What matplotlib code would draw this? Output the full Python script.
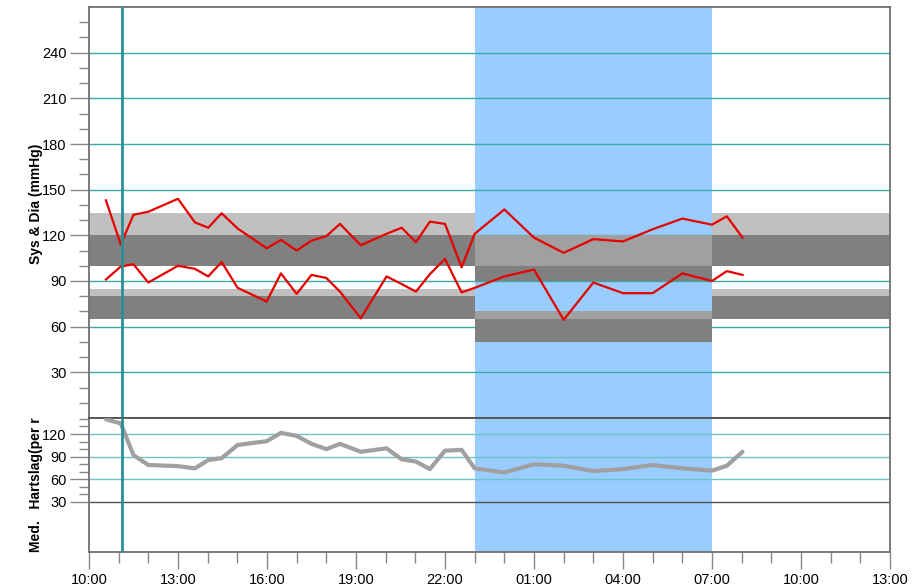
import matplotlib.pyplot as plt

plt.rcParams['font.family'] = ['Liberation Sans', 'DejaVu Sans']

# hours since 10:00
times = [0.57, 1.07, 1.5, 2.0, 3.0, 3.57, 4.02, 4.47, 5.01, 5.99, 6.47, 7.0, 7.5,
         8.0, 8.46, 9.16, 10.03, 10.54, 11.02, 11.49, 12.0, 12.56, 13.0, 14.0,
         15.0, 16.0, 17.0, 18.0, 19.0, 20.0, 21.0, 21.5, 22.03]
sys_bp = [143, 114, 133.5, 135.5, 144, 128.5, 125, 134.5, 124.5, 111.5, 117, 110, 116.5,
          119.5, 127.5, 113.5, 121, 125, 115.5, 129, 127.5, 99, 121, 137,
          118.5, 108.5, 117.5, 116, 124, 131, 127, 132.5, 118.5]
dia_bp = [91, 99.5, 101, 89, 100, 98, 93, 102.5, 85.5, 76.5, 95, 81.5, 94,
          92, 83, 65.5, 93, 88, 83, 94.5, 104.5, 82.5, 85.5, 93,
          97.5, 64.5, 89, 82, 82, 95, 90, 96.5, 94]
heart_rate = [139.5, 134, 92, 79, 77.5, 74.5, 85.5, 88, 105.5, 110.5, 121.5, 117.5, 107,
              100, 107, 96.5, 101, 86.5, 83.5, 73.5, 98, 99, 74.5, 69,
              80, 78, 71, 73.5, 79, 74.5, 71.5, 78, 96.5]

# night period and marker
night_start, night_end = 13.0, 21.0
marker_time = 1.11

# target bands (low, high) for day / night
day_bands = [(120, 135, '#c0c0c0'), (100, 120, '#808080'),
             (80, 85, '#c0c0c0'), (65, 80, '#808080')]
night_bands = [(100, 120, '#a0a0a0'), (90, 100, '#808080'),
               (65, 70, '#a0a0a0'), (50, 65, '#808080')]

xtick_pos = list(range(0, 28, 3))
xtick_labels = ['10:00', '13:00', '16:00', '19:00', '22:00', '01:00',
                '04:00', '07:00', '10:00', '13:00']

teal = '#3aa9a9'
blue = '#99ccff'
tick_col = '#888888'

fig = plt.figure(figsize=(9.17, 5.88), dpi=100)
left, width = 89 / 917, 801 / 917
ax1 = fig.add_axes([left, 1 - 418 / 588, width, 411 / 588])
ax2 = fig.add_axes([left, 1 - 552 / 588, width, 134 / 588], sharex=ax1)

for ax in (ax1, ax2):
    ax.axvspan(night_start, night_end, color=blue, zorder=0, lw=0)
    ax.axvline(marker_time, color='#2a8f95', lw=2, zorder=6)
    for s in ax.spines.values():
        s.set_color('#707070')
        s.set_linewidth(1.3)

# top panel: blood pressure
for v in range(30, 241, 30):
    ax1.axhline(v, color=teal, lw=1, zorder=1)
for lo, hi, c in day_bands:
    ax1.fill_between([0, night_start], lo, hi, color=c, lw=0, zorder=2)
    ax1.fill_between([night_end, 27], lo, hi, color=c, lw=0, zorder=2)
for lo, hi, c in night_bands:
    ax1.fill_between([night_start, night_end], lo, hi, color=c, lw=0, zorder=2)
ax1.plot(times, sys_bp, color='#e60000', lw=1.6, zorder=4)
ax1.plot(times, dia_bp, color='#e60000', lw=1.6, zorder=4)
ax1.set_ylim(0, 270)
ax1.set_yticks(range(30, 241, 30))
ax1.set_yticks(range(10, 270, 10), minor=True)
ax1.set_ylabel('Sys & Dia (mmHg)', fontsize=10, fontweight='bold', labelpad=12)
ax1.yaxis.set_label_coords(-0.058, 0.52)
ax1.tick_params(axis='x', which='both', bottom=False, labelbottom=False)
ax1.spines['bottom'].set_color('#505050')

# bottom panel: heart rate
for v in (60, 90, 120):
    ax2.axhline(v, color='#6cc4c4', lw=1, zorder=1)
ax2.axhline(30, color='#505050', lw=1, zorder=1)
ax2.plot(times, heart_rate, color='#a0a0a0', lw=3, zorder=4, solid_capstyle='round')
ax2.set_ylim(-36.2, 141.2)
ax2.set_yticks([30, 60, 90, 120])
ax2.set_yticks(range(30, 141, 10), minor=True)
ax2.set_ylabel('Med.   Hartslag(per r', fontsize=10, fontweight='bold')
ax2.yaxis.set_label_coords(-0.058, 0.5)
ax2.spines['top'].set_color('#505050')

ax2.set_xlim(0, 27)
ax2.set_xticks(xtick_pos)
ax2.set_xticklabels(xtick_labels)
ax2.set_xticks(range(0, 28), minor=True)

for ax in (ax1, ax2):
    ax.tick_params(axis='y', which='major', length=14, color=tick_col, width=1,
                   labelsize=10.5, pad=2)
    ax.tick_params(axis='y', which='minor', length=7, color=tick_col, width=1)
ax2.tick_params(axis='x', which='major', length=12, color=tick_col, width=1,
                labelsize=10.5, pad=3)
ax2.tick_params(axis='x', which='minor', length=8, color=tick_col, width=1)

fig.savefig('out.png', dpi=100)
